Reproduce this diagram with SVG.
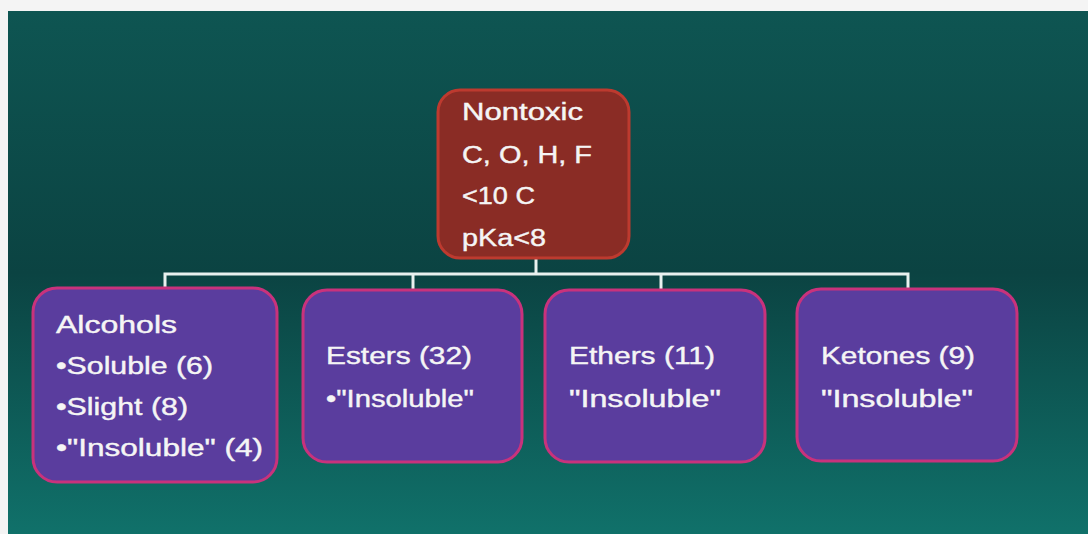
<svg xmlns="http://www.w3.org/2000/svg" width="1088" height="534" viewBox="0 0 1088 534">
  <defs>
    <linearGradient id="bg" x1="0" y1="0" x2="0" y2="1">
      <stop offset="0" stop-color="#0e5552"/>
      <stop offset="0.5" stop-color="#0b4342"/>
      <stop offset="1" stop-color="#10716a"/>
    </linearGradient>
    <style>
      .root { fill: #8a2c25; stroke: #bd3a2f; stroke-width: 3; }
      .leaf { fill: #5a3d9e; stroke: #c9327c; stroke-width: 3; }
      .wire { fill: none; stroke: #e9f1ef; stroke-width: 3; }
      text { font-family: "Liberation Sans", Arial, sans-serif; font-size: 23px; fill: #f5f5f5; stroke: #f5f5f5; stroke-width: 0.4; }
    </style>
  </defs>

  <!-- page and slide panel -->
  <rect x="0" y="0" width="1088" height="534" fill="#f4f4f4"/>
  <rect x="8" y="11" width="1080" height="523" fill="url(#bg)"/>

  <!-- connectors -->
  <g id="connectors">
    <path class="wire" d="M536 258 V274"/>
    <path class="wire" d="M165 289 V274 H908 V289"/>
    <path class="wire" d="M413 274 V290"/>
    <path class="wire" d="M661 274 V290"/>
  </g>

  <g id="node-nontoxic">
    <rect class="root" x="438" y="90" width="191" height="168" rx="22"/>
    <text x="462" y="120" textLength="121" lengthAdjust="spacingAndGlyphs">Nontoxic</text>
    <text x="462" y="163" textLength="130" lengthAdjust="spacingAndGlyphs">C, O, H, F</text>
    <text x="462" y="204" textLength="73" lengthAdjust="spacingAndGlyphs">&lt;10 C</text>
    <text x="462" y="246" textLength="84" lengthAdjust="spacingAndGlyphs">pKa&lt;8</text>
  </g>

  <g id="node-alcohols">
    <rect class="leaf" x="33" y="288" width="244" height="194" rx="24"/>
    <text x="56" y="333" textLength="121" lengthAdjust="spacingAndGlyphs">Alcohols</text>
    <text x="56" y="374" textLength="157" lengthAdjust="spacingAndGlyphs">•Soluble (6)</text>
    <text x="56" y="415" textLength="132" lengthAdjust="spacingAndGlyphs">•Slight (8)</text>
    <text x="56" y="456" textLength="207" lengthAdjust="spacingAndGlyphs">•"Insoluble" (4)</text>
  </g>

  <g id="node-esters">
    <rect class="leaf" x="303" y="290" width="219" height="172" rx="24"/>
    <text x="326" y="364" textLength="146" lengthAdjust="spacingAndGlyphs">Esters (32)</text>
    <text x="326" y="407" textLength="148" lengthAdjust="spacingAndGlyphs">•"Insoluble"</text>
  </g>

  <g id="node-ethers">
    <rect class="leaf" x="545" y="290" width="220" height="172" rx="24"/>
    <text x="569" y="364" textLength="146" lengthAdjust="spacingAndGlyphs">Ethers (11)</text>
    <text x="569" y="407" textLength="152" lengthAdjust="spacingAndGlyphs">"Insoluble"</text>
  </g>

  <g id="node-ketones">
    <rect class="leaf" x="797" y="289" width="220" height="172" rx="24"/>
    <text x="821" y="364" textLength="154" lengthAdjust="spacingAndGlyphs">Ketones (9)</text>
    <text x="821" y="407" textLength="152" lengthAdjust="spacingAndGlyphs">"Insoluble"</text>
  </g>
</svg>
